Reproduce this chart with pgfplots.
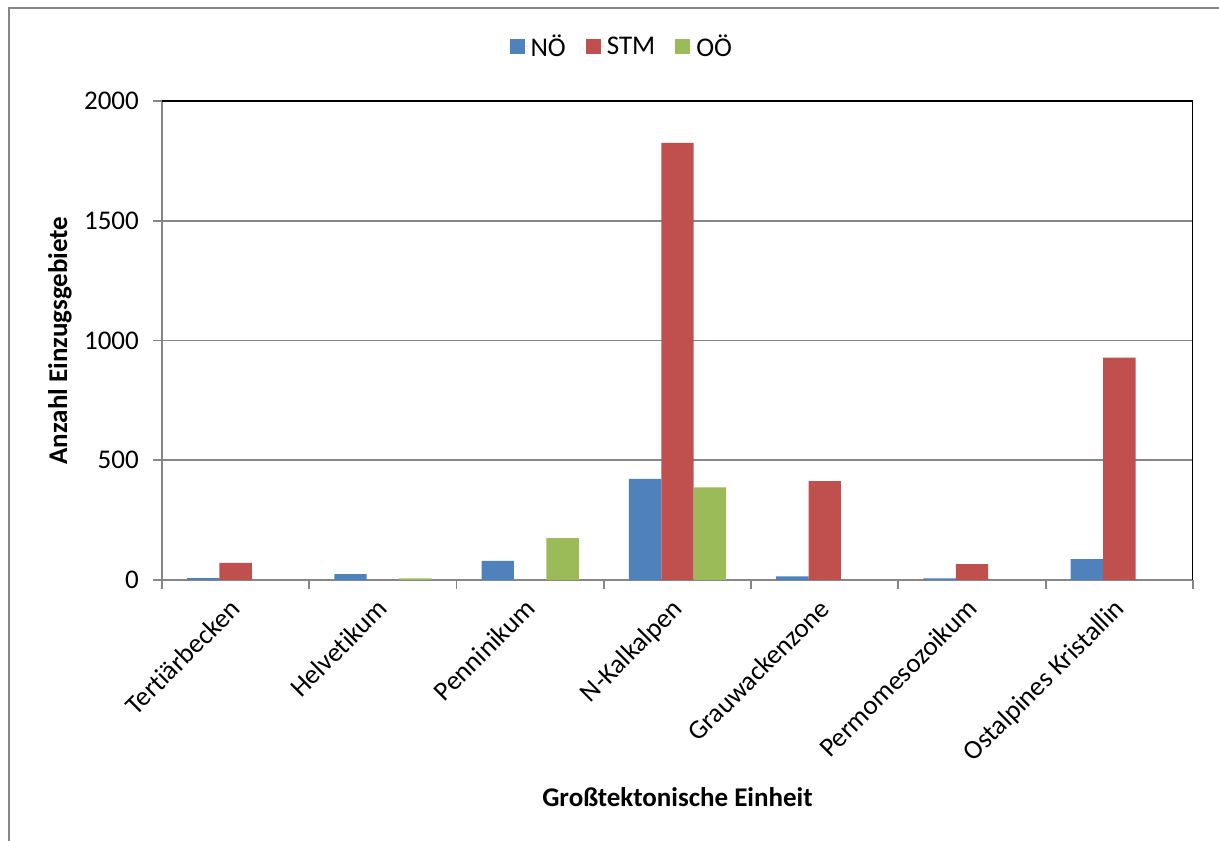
\documentclass[border=0pt]{standalone}
\usepackage{pgfplots}
\pgfplotsset{compat=1.18}
\usepackage{fontspec}
\setmainfont{Carlito}[Ligatures={NoCommon}, Contextuals={NoAlternate}]

\definecolor{noe}{RGB}{79,129,189}
\definecolor{stm}{RGB}{192,80,77}
\definecolor{ooe}{RGB}{155,187,89}
\definecolor{axgray}{RGB}{134,134,134}

\newcommand{\chartfont}{\fontsize{27}{32}\selectfont}

\pgfplotsset{
  square legend/.style={legend image code/.code={
    \fill[##1] (0pt,-7.5pt) rectangle (15pt,7.5pt);
    \path (0pt,0pt) -- (19pt,0pt);}},
}

\begin{document}
\begin{tikzpicture}
\useasboundingbox (0pt,0pt) rectangle (1219pt,841pt);
% outer chart frame (left and top edge)
\draw[axgray, line width=1.8pt] (9pt,0pt) -- (9pt,833pt) -- (1219pt,833pt);
\begin{axis}[
  at={(162pt,261pt)}, anchor=south west,
  scale only axis, width=1031pt, height=479pt,
  xmin=-0.5, xmax=6.5, ymin=0, ymax=2000,
  axis x line*=bottom, axis y line*=left,
  axis line style={axgray, line width=1.8pt, -},
  ytick={0,500,...,2000},
  xtick={-0.5,0.5,...,6.5}, xticklabels={},
  extra x ticks={0,1,2,3,4,5,6},
  extra x tick labels={Tertiärbecken,Helvetikum,Penninikum,N-Kalkalpen,Grauwackenzone,Permomesozoikum,Ostalpines Kristallin},
  extra x tick style={major tick length=0pt},
  tick align=outside, major tick length=9pt,
  tick style={axgray, line width=1.8pt},
  ymajorgrids, grid style={axgray, line width=1.8pt},
  /pgf/number format/assume math mode=true,
  /pgf/number format/1000 sep={},
  yticklabel style={font=\chartfont, inner sep=0pt, xshift=-14pt},
  xticklabel style={font=\chartfont, xshift=-7pt, yshift=-17pt, rotate=45, anchor=north east, inner sep=0pt},
  xlabel={\textbf{Großtektonische Einheit}},
  ylabel={\textbf{Anzahl Einzugsgebiete}},
  every axis x label/.style={at={(axis description cs:0.5,-0.453)}, anchor=center, font=\chartfont},
  every axis y label/.style={at={(axis description cs:-0.099,0.5)}, anchor=center, rotate=90, font=\chartfont},
  legend style={draw=none, at={(axis description cs:0.446,1.113)}, anchor=center,
    legend columns=3, font=\chartfont, inner sep=0pt, cells={anchor=west},
    /tikz/every even column/.append style={column sep=18pt}},
  bar width=0.22,
]
\addplot[ybar, bar shift=-0.22, fill=noe, draw=none, square legend] coordinates {
  (0,8) (1,25) (2,80) (3,422) (4,15) (5,7) (6,87)};
\addplot[ybar, bar shift=0, fill=stm, draw=none, square legend] coordinates {
  (0,71) (3,1825) (4,413) (5,66) (6,928)};
\addplot[ybar, bar shift=0.22, fill=ooe, draw=none, square legend] coordinates {
  (1,7) (2,175) (3,387)};
\legend{NÖ,STM,OÖ}
% plot area border on the top and right
\draw[black, line width=1.8pt] (rel axis cs:0,1) -- (rel axis cs:1,1) -- (rel axis cs:1,0);
\end{axis}
\end{tikzpicture}
\end{document}
